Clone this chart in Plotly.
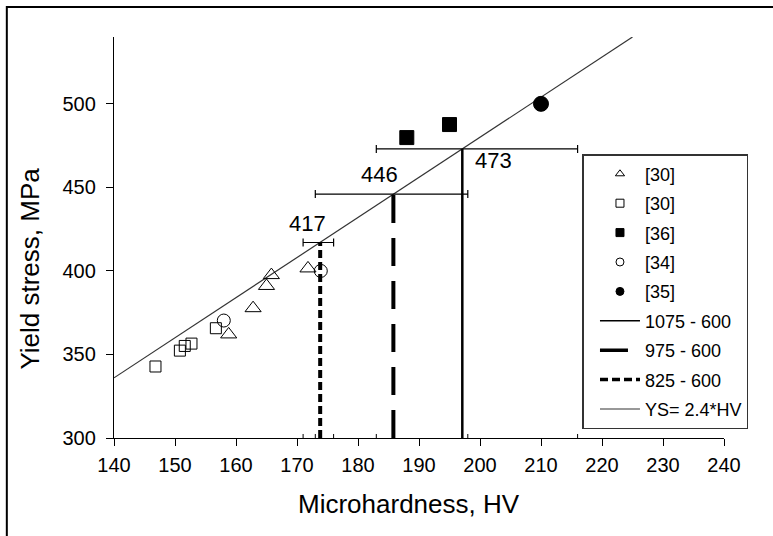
import plotly.graph_objects as go

# ---------------- data ----------------
tri_hv = [158.8, 162.8, 165.0, 165.8, 171.8]
tri_ys = [362.0, 377.7, 391.0, 397.5, 401.5]

sq_hv = [146.8, 150.8, 151.6, 152.7, 156.7]
sq_ys = [342.8, 352.3, 355.1, 356.5, 365.7]

fsq_hv = [188.0, 195.0]
fsq_ys = [479.8, 487.6]

circ_hv = [158.0, 173.9]
circ_ys = [370.3, 400.0]

fcirc_hv = [210.0]
fcirc_ys = [500.0]

# temperature regimes: vertical line positions, yield values, bar extents
regime_names = ["1075 - 600", "975 - 600", "825 - 600"]
regime_hv = [197.1, 185.8, 173.8]
regime_ys = [473, 446, 417]
bar_lo = [183.0, 173.0, 171.0]
bar_hi = [216.0, 198.0, 176.0]

fit_hv = [140, 225]
fit_ys = [336, 540]
fit_name = "YS= 2.4*HV"

x_ticks = [140, 150, 160, 170, 180, 190, 200, 210, 220, 230, 240]
y_ticks = [300, 350, 400, 450, 500]
x_range = [140, 240]
y_range = [300, 540]
x_title = "Microhardness, HV"
y_title = "Yield stress, MPa"

FONT = "Arial, Liberation Sans, sans-serif"
BLACK = "#000000"

fig = go.Figure()

# fit line
fig.add_trace(go.Scatter(x=fit_hv, y=fit_ys, mode="lines",
                         line=dict(color="#333333", width=1.2),
                         showlegend=False, hoverinfo="skip"))

# vertical regime lines
styles = [dict(width=2.5, dash="solid"),
          dict(width=4, dash="28px,15px"),
          dict(width=4, dash="8px,4px")]
for i in range(3):
    fig.add_trace(go.Scatter(x=[regime_hv[i], regime_hv[i]], y=[y_range[0], regime_ys[i]],
                             mode="lines", line=dict(color=BLACK, **styles[i]),
                             showlegend=False))

# horizontal error bars
fig.add_trace(go.Scatter(
    x=regime_hv, y=regime_ys, mode="markers",
    marker=dict(size=1, color="rgba(0,0,0,0)"),
    error_x=dict(type="data", symmetric=False,
                 array=[h - x for h, x in zip(bar_hi, regime_hv)],
                 arrayminus=[x - l for l, x in zip(bar_lo, regime_hv)],
                 color=BLACK, thickness=1.2, width=4),
    showlegend=False, hoverinfo="skip"))

# small ticks on x-axis at bar ends
tx, ty = [], []
for v in bar_lo + bar_hi:
    tx += [v, v, None]
    ty += [y_range[0], y_range[0] + 2.4, None]
fig.add_trace(go.Scatter(x=tx, y=ty, mode="lines", line=dict(color=BLACK, width=1),
                         showlegend=False, hoverinfo="skip"))

# data markers
mk = [
    (tri_hv, tri_ys, "triangle-up-open", 14, "[30]"),
    (sq_hv, sq_ys, "square-open", 11, "[30]"),
    (fsq_hv, fsq_ys, "square", 14, "[36]"),
    (circ_hv, circ_ys, "circle-open", 13, "[34]"),
    (fcirc_hv, fcirc_ys, "circle", 15, "[35]"),
]
for xs, ys, sym, sz, nm in mk:
    fig.add_trace(go.Scatter(x=xs, y=ys, mode="markers",
                             marker=dict(symbol=sym, size=sz, color=BLACK,
                                         line=dict(color=BLACK, width=1)),
                             showlegend=False))

# legend entries
for k, (xs, ys, sym, sz, nm) in enumerate(mk):
    fig.add_trace(go.Scatter(x=[None], y=[None], mode="markers", name=nm,
                             legendgroup=f"g{k}",
                             marker=dict(symbol=sym, size=8, color=BLACK,
                                         line=dict(color=BLACK, width=1))))
leg_styles = [dict(width=1.5, dash="solid"),
              dict(width=3.5, dash="28px,15px"),
              dict(width=3.5, dash="8px,4px")]
for i in range(3):
    fig.add_trace(go.Scatter(x=[None], y=[None], mode="lines", name=regime_names[i],
                             legendgroup=f"g{5+i}",
                             line=dict(color=BLACK, **leg_styles[i])))
fig.add_trace(go.Scatter(x=[None], y=[None], mode="lines", name=fit_name,
                         legendgroup="g8", line=dict(color="#333333", width=1.2)))

# value labels
shifts = [(31, -12), (-14, 20), (-13, 19)]
for i in range(3):
    fig.add_annotation(x=regime_hv[i], y=regime_ys[i], text=str(regime_ys[i]),
                       showarrow=False, xshift=shifts[i][0], yshift=shifts[i][1],
                       font=dict(size=22, color=BLACK, family=FONT))

# axis titles
fig.add_annotation(xref="paper", yref="paper", x=0.483, y=-0.165, text=x_title,
                   showarrow=False, xanchor="center", yanchor="middle",
                   font=dict(size=26, family=FONT, color=BLACK))
fig.add_annotation(xref="paper", yref="paper", x=-0.138, y=0.422, text=y_title,
                   showarrow=False, xanchor="center", yanchor="middle", textangle=-90,
                   font=dict(size=26, family=FONT, color=BLACK))

# outer frame (top & left visible)
fig.add_shape(type="rect", xref="paper", yref="paper",
              x0=-0.1757, x1=1.3, y0=-0.4, y1=1.0748,
              line=dict(color=BLACK, width=2), layer="below")

fig.update_layout(
    width=773, height=536,
    margin=dict(l=114, r=49, t=37, b=98),
    paper_bgcolor="white", plot_bgcolor="white",
    font=dict(family=FONT, color=BLACK),
    showlegend=True,
    legend=dict(x=0.768, y=0.708, xanchor="left", yanchor="top",
                bordercolor="#333333", borderwidth=1.5, bgcolor="white",
                font=dict(size=18, family=FONT, color=BLACK),
                tracegroupgap=3, traceorder="grouped", itemwidth=40,
                indentation=11, entrywidth=127, entrywidthmode="pixels"),
    xaxis=dict(range=x_range, tickvals=x_ticks, showgrid=False, zeroline=False,
               showline=True, linecolor=BLACK, linewidth=1.3,
               ticks="outside", ticklen=7, tickcolor=BLACK, tickwidth=1.3,
               tickfont=dict(size=20, family=FONT, color=BLACK),
               ticklabelstandoff=2),
    yaxis=dict(range=y_range, tickvals=y_ticks, showgrid=False, zeroline=False,
               showline=True, linecolor=BLACK, linewidth=1.3,
               ticks="outside", ticklen=7, tickcolor=BLACK, tickwidth=1.3,
               tickfont=dict(size=20, family=FONT, color=BLACK),
               ticklabelstandoff=6),
)

fig.write_html("out.html")
